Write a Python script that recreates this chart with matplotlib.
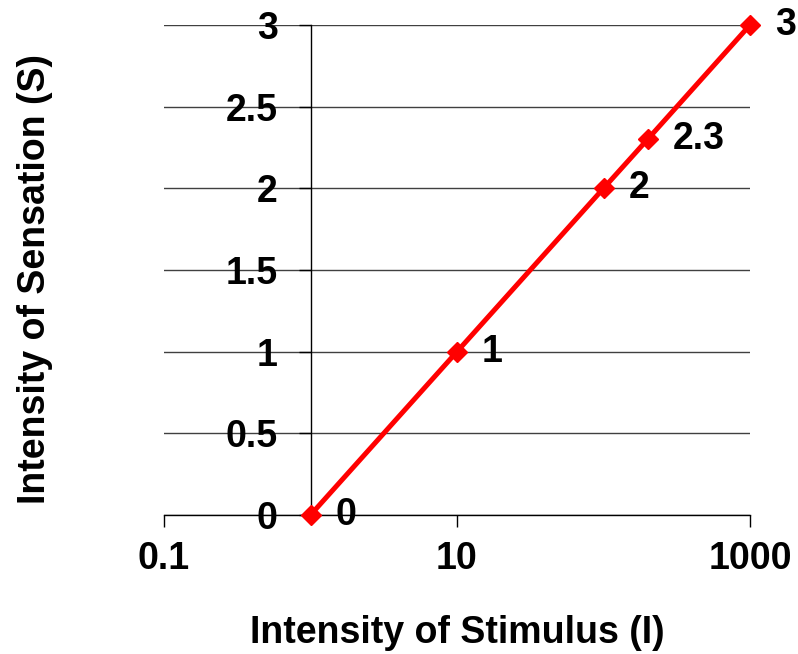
import matplotlib
matplotlib.use("Agg")
import matplotlib.pyplot as plt
from matplotlib.ticker import NullLocator

# Stimulus intensity (log scale) against sensation intensity
stimulus = [1, 10, 100, 200, 1000]
sensation = [0, 1, 2, 2.3, 3]
point_labels = ["0", "1", "2", "2.3", "3"]

x_ticks = [0.1, 10, 1000]
x_tick_labels = ["0.1", "10", "1000"]
y_ticks = [0, 0.5, 1, 1.5, 2, 2.5, 3]
y_tick_labels = ["0", "0.5", "1", "1.5", "2", "2.5", "3"]

TEXT_SIZE = 27
RED = "#ff0000"

plt.rcParams["font.family"] = ["Liberation Sans", "DejaVu Sans"]
plt.rcParams["font.weight"] = "bold"

fig = plt.figure(figsize=(7.98, 6.54), dpi=100)
ax = fig.add_axes([164 / 798, 1 - 515 / 654, 586 / 798, 490 / 654])

ax.set_xscale("log")
ax.set_xlim(0.1, 1000)
ax.set_ylim(0, 3)

# y axis sits at stimulus = 1 (moving the spine resets the ticks, so do it first)
ax.spines["left"].set_position(("data", 1))
ax.spines[["right", "top"]].set_visible(False)
for side in ["left", "bottom"]:
    ax.spines[side].set_linewidth(1)
    ax.spines[side].set_color("black")

ax.set_xticks(x_ticks)
ax.set_xticklabels(x_tick_labels)
ax.xaxis.set_minor_locator(NullLocator())
ax.set_yticks(y_ticks)
ax.set_yticklabels(y_tick_labels)

ax.tick_params(axis="x", direction="out", length=8.5, width=1, pad=10,
               labelsize=TEXT_SIZE)
ax.tick_params(axis="y", direction="out", length=8.5, width=1, pad=15,
               labelsize=TEXT_SIZE)
for lbl in ax.get_xticklabels() + ax.get_yticklabels():
    lbl.set_fontweight("bold")

ax.yaxis.grid(True, color="#404040", linewidth=1)
ax.set_axisbelow(True)

ax.plot(stimulus, sensation, color=RED, linewidth=3.6, marker="D",
        markersize=10.5, clip_on=False, zorder=4)

for x, y, label in zip(stimulus, sensation, point_labels):
    ax.annotate(label, (x, y), xytext=(18, 0), textcoords="offset points",
                ha="left", va="center", fontsize=TEXT_SIZE, fontweight="bold",
                annotation_clip=False)

ax.set_xlabel("Intensity of Stimulus (I)", fontsize=TEXT_SIZE, fontweight="bold")
ax.set_ylabel("Intensity of Sensation (S)", fontsize=TEXT_SIZE, fontweight="bold")
ax.xaxis.label.set_va("center")
ax.yaxis.label.set_va("center")
ax.xaxis.set_label_coords(0.5, (515 - 633) / 490)
ax.yaxis.set_label_coords((35 - 164) / 586, (515 - 279) / 490)

fig.savefig("out.png", dpi=100)
